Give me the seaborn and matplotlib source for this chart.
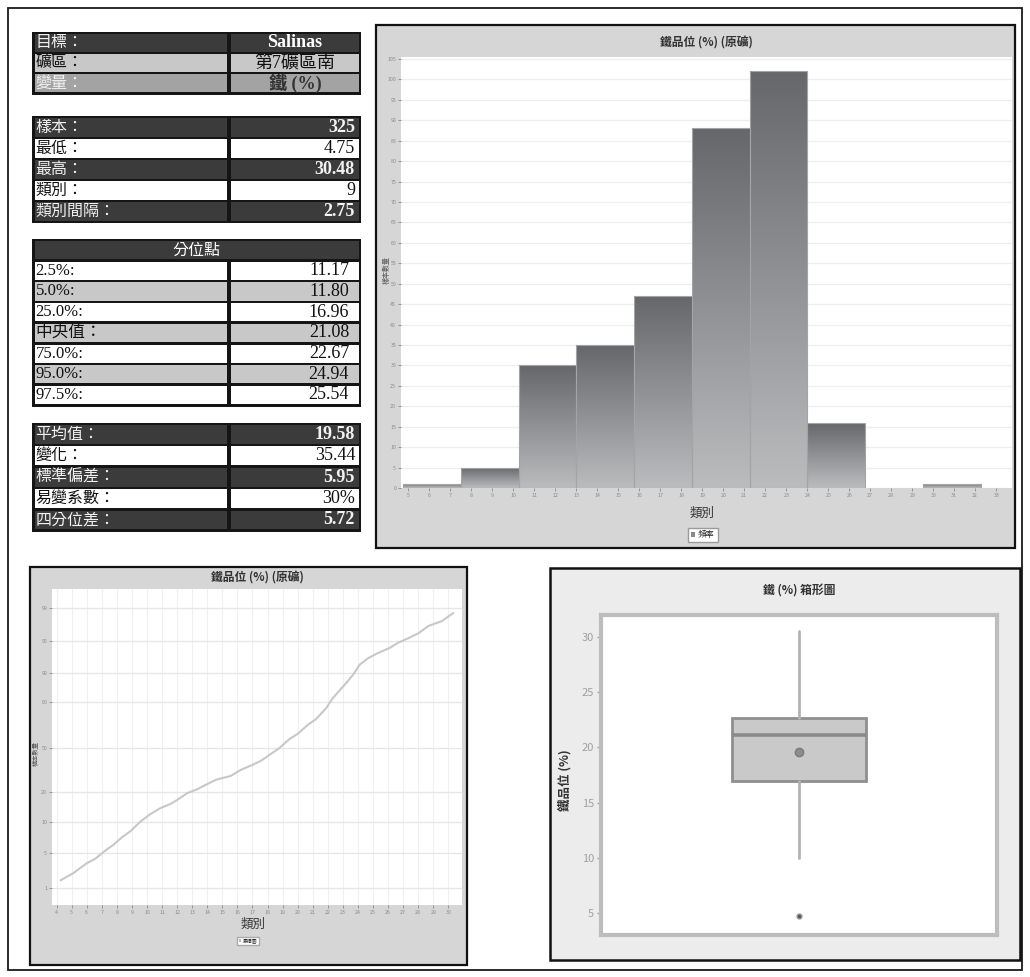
import numpy as np
import pandas as pd
import matplotlib
matplotlib.use("Agg")
import matplotlib.pyplot as plt
import seaborn as sns
from matplotlib.patches import Rectangle, Patch
from matplotlib.colors import LinearSegmentedColormap

# ---------------- data ----------------
info_labels = ["目標：", "礦區：", "變量："]
info_values = ["Salinas", "第7礦區南", "鐵 (%)"]

summary_labels = ["樣本：", "最低：", "最高：", "類別：", "類別間隔："]
summary_values = ["325", "4.75", "30.48", "9", "2.75"]

pct_header = "分位點"
pct_labels = ["2.5%:", "5.0%:", "25.0%:", "中央值：", "75.0%:", "95.0%:", "97.5%:"]
pct_values = [11.17, 11.80, 16.96, 21.08, 22.67, 24.94, 25.54]

moment_labels = ["平均值：", "變化：", "標準偏差：", "易變系數：", "四分位差："]
moment_values = ["19.58", "35.44", "5.95", "30%", "5.72"]

# histogram classes (grade %, counts per class)
bin_start = 4.75
bin_width = 2.75
bin_counts = [1, 5, 30, 35, 47, 88, 102, 16, 0, 1]

# cumulative curve (grade %, cumulative %)
cum_grade = [4.27, 5.11, 6.00, 6.56, 7.22, 7.78, 8.33, 8.89, 9.56, 10.22,
             10.89, 11.56, 12.00, 12.67, 13.33, 13.89, 14.56, 15.56, 16.22, 17.00,
             17.56, 18.22, 18.78, 19.44, 20.00, 20.67, 21.22, 21.89, 22.33, 23.11,
             23.67, 24.11, 24.67, 25.33, 26.11, 26.67, 27.33, 28.00, 28.67, 29.56,
             30.33]
cum_percent = [1.9, 2.7, 3.8, 4.3, 5.3, 6.3, 7.5, 8.5, 10.2, 12.7,
               14.7, 16.1, 17.4, 19.7, 22.0, 25.0, 28.4, 31.1, 35.2, 38.6,
               41.4, 46.1, 50.0, 55.9, 59.4, 65.3, 69.1, 76.3, 81.5, 86.0,
               89.4, 91.3, 92.3, 93.1, 93.9, 94.7, 95.3, 95.9, 96.8, 97.4,
               98.4]
prob_ticks = [1, 5, 10, 20, 50, 80, 90, 95, 99]

# box plot statistics
box_q1 = 16.96
box_median = 21.08
box_q3 = 22.67
box_mean = 19.58
whisker_low = 10.0
whisker_high = 30.48
outliers = [4.75]

# ---------------- style ----------------
sns.set_theme(style="white")
SANS = ["Noto Sans CJK TC", "DejaVu Sans"]
SERIF = ["Liberation Serif", "Noto Sans CJK TC"]
plt.rcParams["font.family"] = SANS
plt.rcParams["axes.unicode_minus"] = False

W, H = 1030, 977
fig = plt.figure(figsize=(W / 100, H / 100), dpi=100, facecolor="white")

# full-figure layer in pixel units for frames and tables
bg = fig.add_axes([0, 0, 1, 1], zorder=0)
bg.set_xlim(0, W)
bg.set_ylim(H, 0)
bg.axis("off")


def fig_rect(x0, y0, x1, y1):
    return [x0 / W, 1 - y1 / H, (x1 - x0) / W, (y1 - y0) / H]


bg.add_patch(Rectangle((8, 8), 1014, 962, fill=False, ec="#1a1a1a", lw=1.3))

DARK = "#3b3b3b"
LIGHT = "#c8c8c8"
MID = "#a3a3a3"
WHITE = "#ffffff"


def draw_table(top, row_h, labels, values, faces, lab_colors, val_colors,
               val_bold, val_align="right", header=None, lab_family=SANS,
               lab_size=11.5, val_inset=6):
    x0, xm, x1 = 32, 229, 361
    n = len(labels) + (1 if header else 0)
    bottom = top + n * row_h + 2
    bg.add_patch(Rectangle((x0, top), x1 - x0, bottom - top, fc="#151515", ec="none"))
    y = top + 2
    if header:
        bg.add_patch(Rectangle((x0 + 2.5, y), x1 - x0 - 5, row_h - 2.5, fc=DARK, ec="none"))
        bg.text((x0 + x1) / 2, y + row_h / 2 - 1.5, header, color="white",
                ha="center", va="center", fontsize=11.5, family=SANS)
        y += row_h
    for lab, val, fc, lc, vc, vb in zip(labels, values, faces, lab_colors,
                                        val_colors, val_bold):
        bg.add_patch(Rectangle((x0 + 2.5, y), xm - x0 - 4.5, row_h - 2.5, fc=fc, ec="none"))
        bg.add_patch(Rectangle((xm + 2, y), x1 - xm - 4.5, row_h - 2.5, fc=fc, ec="none"))
        cy = y + row_h / 2 - 1.3
        bg.text(x0 + 3.5, cy, lab, color=lc, ha="left", va="center",
                fontsize=lab_size, family=lab_family)
        if val_align == "center":
            vx, ha = (xm + x1) / 2, "center"
        else:
            vx, ha = x1 - val_inset, "right"
        bg.text(vx, cy, val, color=vc, ha=ha, va="center", fontsize=13,
                family=SERIF, fontweight="bold" if vb else "normal")
        y += row_h


draw_table(32, 20.2, info_labels, info_values,
           [DARK, LIGHT, MID], ["#f2f2f2", "#111111", "#f2f2f2"],
           ["white", "#111111", "#333333"], [True, False, True], val_align="center")

alt_dark = [DARK, WHITE, DARK, WHITE, DARK]
alt_lab = ["#f2f2f2", "#111111", "#f2f2f2", "#111111", "#f2f2f2"]
alt_bold = [True, False, True, False, True]
draw_table(116, 21.0, summary_labels, summary_values, alt_dark, alt_lab, alt_lab, alt_bold)

pct_faces = [WHITE, LIGHT, WHITE, LIGHT, WHITE, LIGHT, WHITE]
draw_table(239, 20.7, pct_labels, [f"{v:.2f}" for v in pct_values], pct_faces,
           ["#111111"] * 7, ["#111111"] * 7, [False] * 7,
           header=pct_header, lab_family=SERIF, lab_size=12, val_inset=12)

draw_table(423, 21.4, moment_labels, moment_values, alt_dark, alt_lab, alt_lab, alt_bold)

PANEL = "#d6d6d6"

# ---------------- histogram ----------------
HX0, HY0, HX1, HY1 = 401, 57, 1012, 488
bg.add_patch(Rectangle((376, 25), 639, 523, fc=PANEL, ec="#111111", lw=1.6))
hax = fig.add_axes(fig_rect(HX0, HY0, HX1, HY1), zorder=2)
edges = [bin_start + bin_width * i for i in range(len(bin_counts) + 1)]
hist_df = pd.DataFrame({"grade": [(a + b) / 2 for a, b in zip(edges[:-1], edges[1:])],
                        "count": bin_counts})
sns.histplot(data=hist_df, x="grade", weights="count", bins=edges, ax=hax,
             color="#888888", edgecolor="#a4a4a4", linewidth=0.8, alpha=1)
grad_cmap = LinearSegmentedColormap.from_list("bar_grad", ["#bbbcbe", "#65676b"])
grad = np.linspace(0, 1, 256).reshape(-1, 1)
for p in list(hax.patches):
    h = p.get_height()
    if h <= 0:
        p.set_linewidth(0)
        continue
    x, w = p.get_x(), p.get_width()
    im = hax.imshow(grad, extent=[x, x + w, 0, h], origin="lower", cmap=grad_cmap,
                    aspect="auto", zorder=0.9, interpolation="bilinear")
    im.set_clip_path(p)
    p.set_facecolor("none")
hax.set_xlim(4.65, 33.75)
hax.set_ylim(0, 105.5)
hax.set_facecolor("white")
hax.set_xticks(np.arange(5, 34, 1))
hax.set_yticks(np.arange(0, 106, 5))
hax.grid(axis="y", color="#eeeeee", lw=0.9)
hax.set_axisbelow(True)
for s in hax.spines.values():
    s.set_visible(False)
hax.tick_params(axis="both", labelsize=3.8, colors="#8a8a8a", length=2, width=0.6,
                pad=1.5, direction="out", bottom=True, left=True)
hax.set_title("鐵品位 (%) (原礦)", fontsize=8.5, color="#333333", fontweight="bold",
              y=(HY1 - 43) / (HY1 - HY0), pad=0, va="center")
hax.set_xlabel("類別", fontsize=9, color="#333333")
hax.xaxis.set_label_coords((702 - HX0) / (HX1 - HX0), (HY1 - 507) / (HY1 - HY0))
hax.set_ylabel("樣本數量", fontsize=5, color="#555555")
hax.yaxis.set_label_coords((391 - HX0) / (HX1 - HX0), (HY1 - 270) / (HY1 - HY0))
hax.legend(handles=[Patch(fc="#8a8a8a", ec="none", label="頻率")], loc="center",
           bbox_to_anchor=(703 / W, 1 - 535 / H), bbox_transform=fig.transFigure,
           fontsize=6, frameon=True, fancybox=False, edgecolor="#9a9a9a",
           handlelength=0.4, handleheight=0.6, handletextpad=0.4, borderpad=0.35,
           framealpha=1)

# ---------------- cumulative curve ----------------
CX0, CY0, CX1, CY1 = 52, 589, 462, 905
bg.add_patch(Rectangle((30, 567), 437, 398, fc=PANEL, ec="#111111", lw=1.6))
cax = fig.add_axes(fig_rect(CX0, CY0, CX1, CY1), zorder=2)
# probability-style vertical axis: tick values at fixed relative heights
prob_axis_vals = [0] + prob_ticks + [100]
prob_axis_pos = [0, 50, 157, 248, 338, 470, 607, 695, 792, 890, 947]
cax.set_yscale("function", functions=(
    lambda v: np.interp(v, prob_axis_vals, prob_axis_pos),
    lambda q: np.interp(q, prob_axis_pos, prob_axis_vals)))
sns.lineplot(x=cum_grade, y=cum_percent, ax=cax, color="#c8c8c8", lw=1.5, sort=False)
cax.set_xlim(3.7, 30.9)
cax.set_ylim(0, 100)
cax.set_xticks(np.arange(4, 31, 1))
cax.set_yticks(prob_ticks)
cax.set_yticklabels([str(t) for t in prob_ticks])
cax.yaxis.set_minor_locator(matplotlib.ticker.NullLocator())
cax.set_facecolor("white")
cax.grid(axis="x", color="#f0f0f0", lw=0.8)
cax.grid(axis="y", color="#e6e6e6", lw=0.9)
cax.set_axisbelow(True)
for s in cax.spines.values():
    s.set_visible(False)
cax.tick_params(axis="both", labelsize=3.8, colors="#8a8a8a", length=2, width=0.6,
                pad=1.5, bottom=True, left=True)
cax.set_title("鐵品位 (%) (原礦)", fontsize=8.5, color="#333333", fontweight="bold",
              y=(CY1 - 578) / (CY1 - CY0), pad=0, va="center")
cax.set_xlabel("類別", fontsize=9, color="#333333")
cax.xaxis.set_label_coords((253 - CX0) / (CX1 - CX0), (CY1 - 918) / (CY1 - CY0))
cax.set_ylabel("樣本數量", fontsize=4.5, color="#555555")
cax.yaxis.set_label_coords((40 - CX0) / (CX1 - CX0), (CY1 - 753) / (CY1 - CY0))
cax.legend(handles=[Patch(fc="#bbbbbb", ec="none", label="累積圖")], loc="center",
           bbox_to_anchor=(248 / W, 1 - 941 / H), bbox_transform=fig.transFigure,
           fontsize=3.5, frameon=True, fancybox=False, edgecolor="#aaaaaa",
           handlelength=0.4, handleheight=0.5, handletextpad=0.3, borderpad=0.4,
           framealpha=1)

# ---------------- box plot ----------------
BX0, BY0, BX1, BY1 = 601, 615, 997, 935
bg.add_patch(Rectangle((550, 568), 470, 392, fc="#ececec", ec="#111111", lw=1.8))
bax = fig.add_axes(fig_rect(BX0, BY0, BX1, BY1), zorder=2)
box_stats = [dict(med=box_median, q1=box_q1, q3=box_q3, mean=box_mean,
                  whislo=whisker_low, whishi=whisker_high, fliers=outliers)]
bax.bxp(box_stats, positions=[0], widths=0.34, showmeans=True, showcaps=False,
        patch_artist=True,
        boxprops=dict(facecolor="#c9c9c9", edgecolor="#8f8f8f", lw=2),
        medianprops=dict(color="#8a8a8a", lw=2.6),
        whiskerprops=dict(color="#b3b3b3", lw=2),
        meanprops=dict(marker="o", markerfacecolor="#8c8c8c", markeredgecolor="#7a7a7a",
                       markersize=6),
        flierprops=dict(marker="o", markerfacecolor="#555555", markeredgecolor="#999999",
                        markersize=3.5))
bax.set_xlim(-0.5, 0.5)
bax.set_ylim(3.04, 31.96)
bax.set_xticks([])
bax.set_yticks([5, 10, 15, 20, 25, 30])
bax.set_facecolor("white")
bax.grid(False)
for s in bax.spines.values():
    s.set_visible(True)
    s.set_color("#bdbdbd")
    s.set_linewidth(3)
bax.tick_params(axis="y", labelsize=8, colors="#a0a0a0", length=3, width=1, pad=2, left=True)
bax.set_title("鐵 (%) 箱形圖", fontsize=8.5, color="#333333", fontweight="bold",
              y=(BY1 - 591) / (BY1 - BY0), pad=0, va="center")
bax.set_ylabel("鐵品位 (%)", fontsize=9, color="#333333", fontweight="bold")
bax.yaxis.set_label_coords((572 - BX0) / (BX1 - BX0), (BY1 - 780) / (BY1 - BY0))

fig.savefig("out.png", dpi=100, facecolor="white")
